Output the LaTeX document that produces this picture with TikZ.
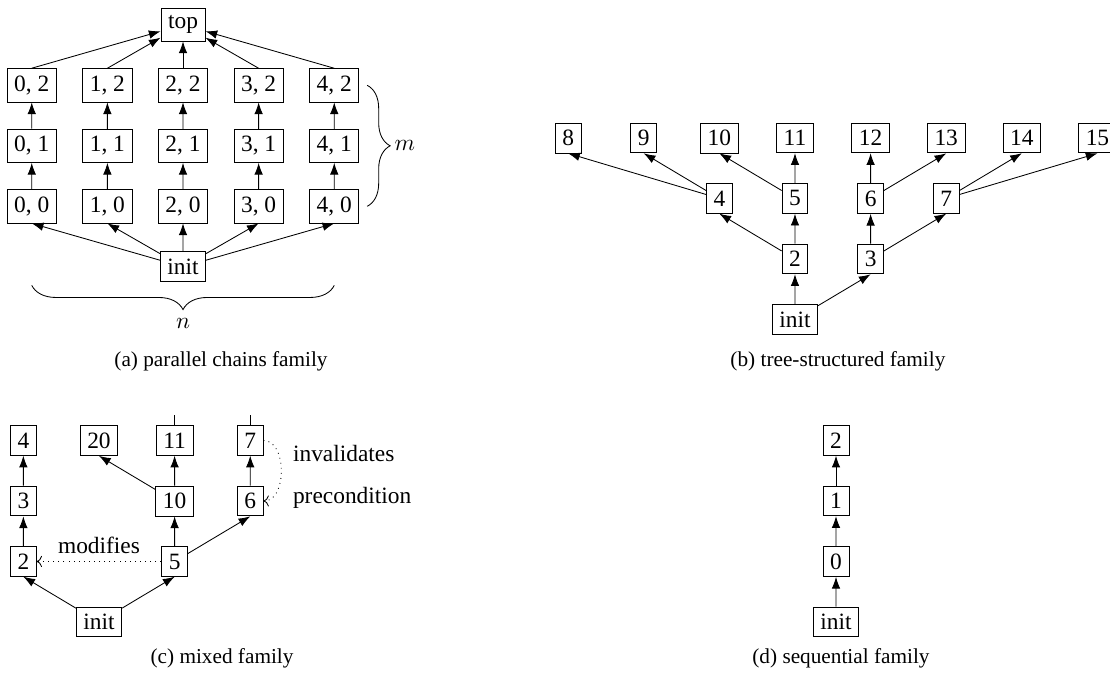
\documentclass[tikz,border=0pt]{standalone}
\usepackage{fontspec}
\setmainfont{Liberation Serif}
\usetikzlibrary{arrows.meta,decorations.pathreplacing,positioning}
\newcommand{\boxfont}{\fontsize{11}{13.6}\selectfont}
\begin{document}
\begin{tikzpicture}[grow'=up,level distance=1cm,sibling distance=1.25cm,child anchor=south,
    edge from parent/.style={draw,-{Latex[length=5.5pt,width=4pt]}},
    arr/.style={-{Latex[length=5.5pt,width=4pt]}},
    note/.style={dotted,->},
    lbl/.style={font=\boxfont},
    caption/.style={font=\fontsize{10}{12}\selectfont}]
  \useasboundingbox (0,0) rectangle (18.347,-11.19);
  \begin{scope}[every node/.style={draw,font=\boxfont}]
    % (a) parallel chains
    \node (ainit) at (3.025,-4.41) {init}
      child { node (a00) {0, 0} child { node (a01) {0, 1} child { node (a02) {0, 2} } } }
      child { node (a10) {1, 0} child { node (a11) {1, 1} child { node (a12) {1, 2} } } }
      child { node (a20) {2, 0} child { node (a21) {2, 1} child { node (a22) {2, 2} } } }
      child { node (a30) {3, 0} child { node (a31) {3, 1} child { node (a32) {3, 2} } } }
      child { node (a40) {4, 0} child { node (a41) {4, 1} child { node (a42) {4, 2} } } };
    \node (atop) at ([yshift=1cm]a22) {top};
    % (b) tree-structured
    \node (binit) at (13.14,-5.28) {init}
      child[missing]
      child { node (b2) {2}
        child { node (b4) {4}
          child { node (b8) {8} }
          child { node (b9) {9} }
          child[missing] child[missing] child[missing]
        }
        child { node (b5) {5}
          child { node (b10) {10} }
          child { node (b11) {11} }
          child[missing]
        }
        child[missing]
      }
      child { node (b3) {3}
        child[missing]
        child { node (b6) {6}
          child[missing]
          child { node (b12) {12} }
          child { node (b13) {13} }
        }
        child { node (b7) {7}
          child[missing] child[missing] child[missing]
          child { node (b14) {14} }
          child { node (b15) {15} }
        }
      };
    % (c) mixed
    \begin{scope}[level 1/.style={sibling distance=2.5cm},level 2/.style={sibling distance=1.25cm}]
      \node (cinit) at (1.636,-10.28) {init}
        child { node (c2) {2} child { node (c3) {3} child { node (c4) {4} } } }
        child { node (c5) {5}
          child[missing]
          child { node (c10) {10}
            child { node (c20) {20} }
            child { node (c11) {11} }
            child[missing]
          }
          child { node (c6) {6} child { node (c7) {7} } }
        };
    \end{scope}
    % (d) sequential
    \node (dinit) at (13.818,-10.28) {init}
      child { node (d0) {0} child { node (d1) {1} child { node (d2) {2} } } };
  \end{scope}

  \draw[arr] (a02.north) -- (atop);
  \draw[arr] (a12.north) -- (atop);
  \draw[arr] (a22.north) -- (atop);
  \draw[arr] (a32.north) -- (atop);
  \draw[arr] (a42.north) -- (atop);
  \draw[decorate,decoration={brace,amplitude=0.38cm}] ([xshift=0.13cm]a42.east) -- ([xshift=0.13cm]a40.east)
    node[midway,right=0.33cm,lbl] (mlabel) {$m$};
  \coordinate (nright) at (a40 |- ainit.south);
  \coordinate (nleft) at (a00 |- ainit.south);
  \draw[decorate,decoration={brace,amplitude=0.4cm}] ([yshift=-1.5pt]nright) -- ([yshift=-1.5pt]nleft)
    node[midway,below=0.42cm,lbl] (nlabel) {$n$};

  \coordinate[above=0.17cm of c11] (c11open);
  \coordinate[above=0.17cm of c7] (c7open);
  \draw (c11) -- (c11open);
  \draw (c7) -- (c7open);
  \draw[note] (c5) -- (c2) node[midway,above,lbl] (modlabel) {modifies};
  \draw[note] (c7.east) to[out=0,in=0]
    node[midway,right,xshift=2pt,yshift=-0.1cm,align=left,lbl] (invlabel) {invalidates\\[6pt]precondition} (c6.east);

  \node[caption] (capa) at (3.653,-5.98) {(a) parallel chains family};
  \node[caption] (capb) at (13.85,-5.98) {(b) tree-structured family};
  \node[caption] (capc) at (3.67,-10.88) {(c) mixed family};
  \node[caption] (capd) at (13.9,-10.88) {(d) sequential family};
\end{tikzpicture}
\end{document}
